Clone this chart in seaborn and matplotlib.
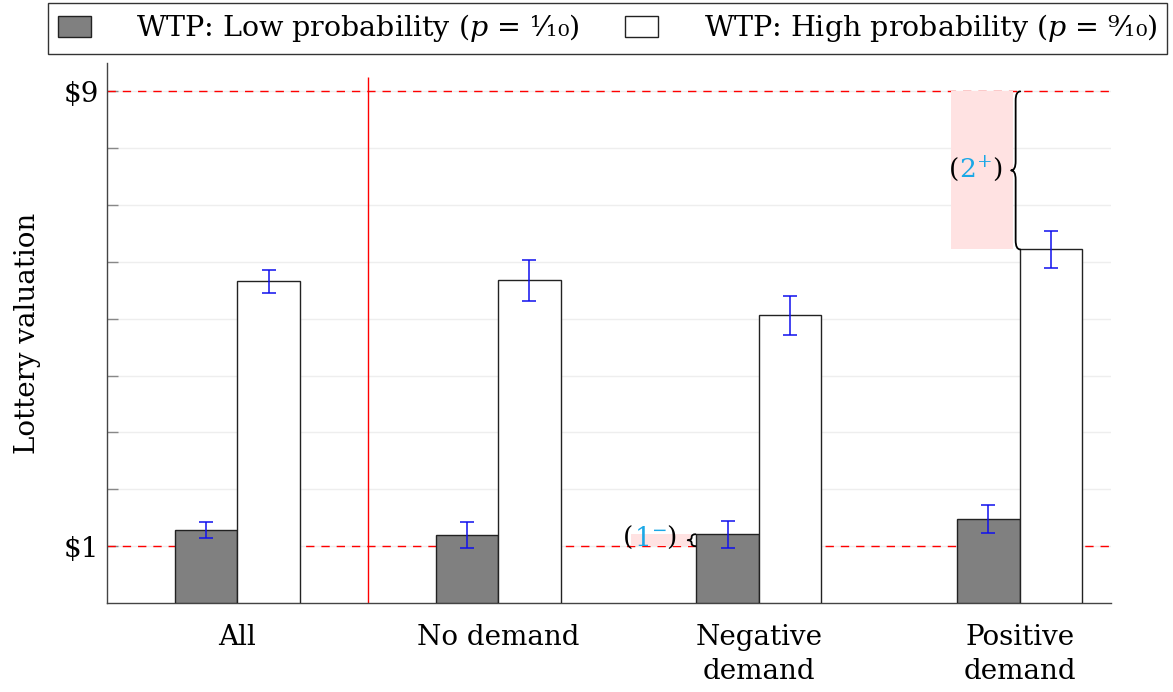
import numpy as np
import pandas as pd
import matplotlib
matplotlib.use("Agg")
import matplotlib.pyplot as plt
import seaborn as sns
from matplotlib.patches import Rectangle, Patch, PathPatch
from matplotlib.path import Path
from matplotlib.offsetbox import TextArea, HPacker, AnnotationBbox

# ---------------- data ----------------
categories = ["All", "No demand", "Negative\ndemand", "Positive\ndemand"]
series_names = ["WTP: Low probability ($p$ = ¹⁄₁₀)", "WTP: High probability ($p$ = ⁹⁄₁₀)"]
low_values = [1.28, 1.20, 1.21, 1.48]
low_errors = [0.14, 0.23, 0.24, 0.25]
high_values = [5.66, 5.68, 5.06, 6.22]
high_errors = [0.20, 0.36, 0.34, 0.33]
ytick_values = [1, 9]
ytick_labels = ["\\$1", "\\$9"]

df = pd.DataFrame({
    "category": categories * 2,
    "series": [series_names[0]] * 4 + [series_names[1]] * 4,
    "value": low_values + high_values,
})

sns.set_theme(style="white")
plt.rcParams["font.family"] = ["DejaVu Serif"]
plt.rcParams["mathtext.fontset"] = "dejavuserif"
for k in ["text.color", "axes.labelcolor", "xtick.labelcolor", "ytick.labelcolor"]:
    plt.rcParams[k] = "black"

fig = plt.figure(figsize=(11.73, 6.92), dpi=100)
ax = fig.add_axes([0.0912, 0.1286, 0.9471 - 0.0912, 0.909 - 0.1286])

sns.barplot(data=df, x="category", y="value", hue="series", order=categories,
            hue_order=series_names, palette={series_names[0]: "#808080", series_names[1]: "white"},
            width=0.48, edgecolor="#222222", linewidth=1.0, errorbar=None, ax=ax, zorder=3)

# error bars
for cont, errs in zip(ax.containers, [low_errors, high_errors]):
    xs = [p.get_x() + p.get_width() / 2 for p in cont.patches]
    ys = [p.get_height() for p in cont.patches]
    ax.errorbar(xs, ys, yerr=errs, fmt="none", ecolor="#1010ee", elinewidth=1.1,
                capsize=5, capthick=1.1, zorder=5)

ax.set_xlim(-0.5, 3.35)
ax.set_ylim(0, 9.5)

# grid & reference lines
for yv in range(1, 10):
    ax.axhline(yv, color="#eeeeee", lw=1, zorder=0)
for yv in ytick_values:
    ax.axhline(yv, color="red", lw=1, ls=(0, (6, 5)), zorder=1)
ax.vlines(0.5, 0, 9.25, color="red", lw=1, zorder=1)

ax.set_yticks(range(1, 10))
ax.set_yticklabels([ytick_labels[ytick_values.index(v)] if v in ytick_values else "" for v in range(1, 10)])
ax.tick_params(axis="y", direction="in", length=8, width=1, color="#888888", labelsize=20, pad=6, left=True)
ax.tick_params(axis="x", length=0, labelsize=20, pad=15)
for t in ax.get_xticklabels():
    t.set_linespacing(1.35)
ax.set_xlabel("")
ax.set_ylabel("Lottery valuation", fontsize=20, labelpad=16)
for s in ["top", "right"]:
    ax.spines[s].set_visible(False)
for s in ["left", "bottom"]:
    ax.spines[s].set_color("#444444")
    ax.spines[s].set_linewidth(1)

# legend
handles = [Patch(facecolor="#808080", edgecolor="#222222", lw=1),
           Patch(facecolor="white", edgecolor="#222222", lw=1)]
if ax.get_legend() is not None:
    ax.get_legend().remove()
leg = fig.legend(handles, series_names, loc="upper center", bbox_to_anchor=(0.518, 0.996), ncol=2,
                 frameon=True, fancybox=False, edgecolor="black", fontsize=20.5,
                 handlelength=1.15, handleheight=0.75, handletextpad=1.6, columnspacing=1.6,
                 borderpad=0.34, borderaxespad=0)
leg.get_frame().set_linewidth(1)


def brace(ax, x, y0, y1, w, r):
    """Curly brace at x (ends), tip pointing left by w, spanning y0..y1 (data units)."""
    ym = (y0 + y1) / 2
    xh = x - w / 2
    xt = x - w
    verts = [(x, y0), (xh, y0), (xh, y0 + r),
             (xh, ym - r), (xh, ym), (xt, ym),
             (xh, ym), (xh, ym + r),
             (xh, y1 - r), (xh, y1), (x, y1)]
    codes = [Path.MOVETO, Path.CURVE3, Path.CURVE3,
             Path.LINETO, Path.CURVE3, Path.CURVE3,
             Path.CURVE3, Path.CURVE3,
             Path.LINETO, Path.CURVE3, Path.CURVE3]
    ax.add_patch(PathPatch(Path(verts, codes), fill=False, lw=1.3, ec="black", zorder=6,
                           capstyle="round", joinstyle="round"))


def label(ax, x, y, core, sup):
    parts = [TextArea("(", textprops=dict(color="black", fontsize=19)),
             TextArea(f"${core}^{{{sup}}}$", textprops=dict(color="#1ba8e6", fontsize=19)),
             TextArea(")", textprops=dict(color="black", fontsize=19))]
    box = HPacker(children=parts, align="baseline", pad=0, sep=0)
    ab = AnnotationBbox(box, (x, y), frameon=False, box_alignment=(0.5, 0.5), zorder=7)
    ax.add_artist(ab)


# annotation (1-): gap between $1 and the Negative-demand low bar
p_neg = ax.containers[0].patches[2]
bw = p_neg.get_width()
x_left = p_neg.get_x()
ax.add_patch(Rectangle((x_left - bw - 0.01, 1), bw - 0.01, p_neg.get_height() - 1,
                       facecolor="#ffe2e2", edgecolor="none", zorder=2))
brace(ax, x_left - 0.003, 1.0, p_neg.get_height(), 0.03, 0.05)
label(ax, x_left - bw * 0.7 - 0.01, (1 + p_neg.get_height()) / 2 + 0.03, "1", "-")

# annotation (2+): gap between Positive-demand high bar and $9
p_pos = ax.containers[1].patches[3]
x_left2 = p_pos.get_x()
ax.add_patch(Rectangle((x_left2 - bw - 0.025, p_pos.get_height()), bw, 9 - p_pos.get_height(),
                       facecolor="#ffe2e2", edgecolor="none", zorder=2))
brace(ax, x_left2 + 0.002, p_pos.get_height(), 9.0, 0.035, 0.16)
label(ax, x_left2 - bw * 0.6 - 0.025, (9 + p_pos.get_height()) / 2, "2", "+")

fig.savefig("out.png", dpi=100)
